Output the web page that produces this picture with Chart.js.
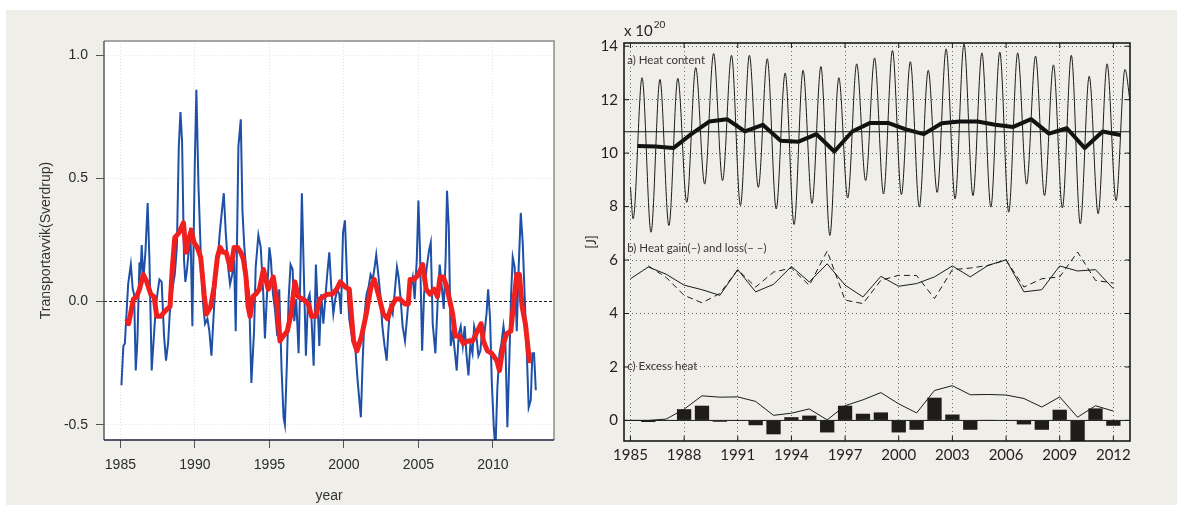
<!DOCTYPE html>
<html>
<head>
<meta charset="utf-8">
<script src="https://cdn.jsdelivr.net/npm/chart.js@4.4.1/dist/chart.umd.min.js"></script>
<style>
body { margin: 0; width: 1177px; height: 505px; background: #fff; position: relative; overflow: hidden; }
#bg { position: absolute; left: 6px; top: 10px; width: 1171px; height: 495px; background: #efeee9; }
#left { position: absolute; left: 0; top: 0; width: 590px; height: 505px; }
#right { position: absolute; left: 584px; top: 0; width: 593px; height: 505px; }
</style>
</head>
<body>
<div id="bg"></div>
<canvas id="left" width="590" height="505"></canvas>
<canvas id="right" width="593" height="505"></canvas>
<script>
// ---- left panel: transport anomaly (Sv) ----
var leftYearTicks = [1985, 1990, 1995, 2000, 2005, 2010]
var leftValueTicks = [-0.5, 0, 0.5, 1.0]

var transportYears = [
  1985.07, 1985.2, 1985.3, 1985.52, 1985.7, 1985.83, 1985.92, 1986.03, 1986.14, 1986.28,
  1986.36, 1986.43, 1986.54, 1986.68, 1986.83, 1986.95, 1987.1, 1987.26, 1987.37, 1987.48,
  1987.62, 1987.77, 1987.93, 1988.06, 1988.2, 1988.31, 1988.49, 1988.65, 1988.79, 1988.92,
  1989.03, 1989.14, 1989.27, 1989.36, 1989.47, 1989.61, 1989.7, 1989.83, 1989.99, 1990.1,
  1990.24, 1990.39, 1990.55, 1990.68, 1990.84, 1990.97, 1991.11, 1991.29, 1991.42, 1991.53,
  1991.67, 1991.8, 1991.94, 1992.07, 1992.23, 1992.36, 1992.5, 1992.63, 1992.74, 1992.92,
  1993.08, 1993.19, 1993.32, 1993.48, 1993.64, 1993.79, 1993.97, 1994.08, 1994.26, 1994.42,
  1994.59, 1994.7, 1994.84, 1995.0, 1995.1, 1995.24, 1995.37, 1995.53, 1995.66, 1995.82,
  1995.95, 1996.04, 1996.18, 1996.29, 1996.42, 1996.56, 1996.67, 1996.8, 1996.96, 1997.07,
  1997.18, 1997.3, 1997.45, 1997.59, 1997.7, 1997.81, 1997.97, 1998.12, 1998.24, 1998.35,
  1998.48, 1998.62, 1998.75, 1998.88, 1999.02, 1999.15, 1999.29, 1999.42, 1999.56, 1999.69,
  1999.8, 1999.94, 2000.07, 2000.23, 2000.36, 2000.5, 2000.65, 2000.79, 2000.92, 2001.05,
  2001.14, 2001.26, 2001.39, 2001.52, 2001.66, 2001.79, 2001.93, 2002.04, 2002.17, 2002.31,
  2002.44, 2002.58, 2002.73, 2002.87, 2002.98, 2003.11, 2003.27, 2003.4, 2003.56, 2003.67,
  2003.81, 2003.94, 2004.1, 2004.23, 2004.37, 2004.62, 2004.75, 2004.89, 2005.0, 2005.11,
  2005.25, 2005.38, 2005.56, 2005.72, 2005.83, 2005.96, 2006.14, 2006.3, 2006.43, 2006.57,
  2006.7, 2006.83, 2006.92, 2007.04, 2007.17, 2007.3, 2007.44, 2007.57, 2007.71, 2007.84,
  2007.98, 2008.11, 2008.22, 2008.36, 2008.49, 2008.63, 2008.74, 2008.89, 2009.03, 2009.16,
  2009.3, 2009.43, 2009.57, 2009.68, 2009.81, 2009.92, 2010.06, 2010.17, 2010.3, 2010.44,
  2010.57, 2010.71, 2010.84, 2010.97, 2011.11, 2011.22, 2011.33, 2011.46, 2011.6, 2011.73,
  2011.87, 2012.0, 2012.14, 2012.27, 2012.4, 2012.54, 2012.65, 2012.76, 2012.88
]
var transportValues = [
  -0.34, -0.18, -0.17, 0.07, 0.15, 0.05, 0.03, -0.28, -0.16, 0.16,
  0.13, 0.23, 0.09, 0.20, 0.40, 0.17, -0.28, -0.13, -0.03, 0.03,
  0.09, 0.08, -0.14, -0.24, -0.17, -0.05, 0.05, 0.11, 0.22, 0.63,
  0.77, 0.65, 0.17, 0.08, 0.13, 0.22, 0.30, -0.10, 0.55, 0.86,
  0.47, 0.20, -0.01, -0.09, -0.07, -0.12, -0.22, -0.02, 0.11, 0.17,
  0.28, 0.36, 0.44, 0.28, 0.14, 0.07, 0.11, 0.17, -0.12, 0.63,
  0.74, 0.37, 0.22, 0.10, 0.03, -0.33, -0.12, 0.14, 0.27, 0.22,
  0.03, -0.15, 0.03, 0.22, 0.17, 0.03, -0.03, -0.14, 0.05, -0.28,
  -0.47, -0.50, -0.24, 0.01, 0.15, 0.13, -0.08, 0.01, -0.21, 0.09,
  0.44, 0.14, -0.22, 0.01, 0.03, -0.05, -0.26, 0.15, -0.02, -0.18,
  0.03, -0.09, 0.01, 0.11, 0.20, 0.06, -0.05, 0.01, 0.05, 0.03,
  -0.05, 0.28, 0.33, 0.06, -0.07, -0.13, -0.12, -0.21, -0.32, -0.41,
  -0.47, -0.24, -0.05, 0.03, 0.06, 0.11, 0.09, 0.13, 0.19, 0.11,
  0.03, -0.10, -0.18, -0.24, -0.12, -0.02, -0.05, 0.03, 0.14, 0.10,
  0.01, -0.10, -0.16, -0.07, 0.03, 0.10, 0.01, 0.17, 0.41, 0.20,
  -0.20, 0.03, 0.14, 0.21, 0.24, -0.09, -0.21, 0.01, 0.15, 0.06,
  -0.03, 0.18, 0.45, 0.30, -0.18, -0.12, -0.20, -0.28, -0.13, -0.10,
  -0.18, -0.10, -0.21, -0.30, -0.17, -0.21, -0.10, -0.14, -0.22, -0.20,
  -0.10, -0.13, -0.05, 0.05, -0.07, -0.32, -0.51, -0.60, -0.35, -0.21,
  -0.17, -0.10, -0.17, -0.51, -0.22, 0.03, 0.18, 0.14, -0.12, 0.14,
  0.36, 0.24, 0.01, -0.20, -0.43, -0.40, -0.21, -0.21, -0.36
]

var smoothYears = [
  1985.43, 1985.55, 1985.65, 1985.87, 1986.1, 1986.28, 1986.54, 1986.77, 1987.04, 1987.26,
  1987.44, 1987.71, 1987.98, 1988.33, 1988.49, 1988.65, 1988.94, 1989.23, 1989.41, 1989.58,
  1989.76, 1989.94, 1990.16, 1990.39, 1990.62, 1990.78, 1991.06, 1991.29, 1991.51, 1991.69,
  1991.89, 1992.1, 1992.41, 1992.63, 1992.86, 1993.08, 1993.26, 1993.43, 1993.57, 1993.7,
  1993.88, 1994.08, 1994.33, 1994.6, 1994.92, 1995.26, 1995.48, 1995.71, 1995.93, 1996.2,
  1996.45, 1996.71, 1996.94, 1997.27, 1997.61, 1997.83, 1998.1, 1998.39, 1998.62, 1998.91,
  1999.22, 1999.51, 1999.76, 2000.07, 2000.36, 2000.65, 2000.88, 2001.19, 2001.5, 2001.82,
  2002.04, 2002.31, 2002.64, 2002.93, 2003.2, 2003.47, 2003.76, 2004.1, 2004.32, 2004.44,
  2004.71, 2005.0, 2005.29, 2005.52, 2005.78, 2006.05, 2006.28, 2006.45, 2006.68, 2006.9,
  2007.08, 2007.3, 2007.48, 2007.75, 2008.02, 2008.33, 2008.64, 2008.96, 2009.21, 2009.36,
  2009.63, 2009.92, 2010.26, 2010.44, 2010.71, 2010.93, 2011.2, 2011.42, 2011.6, 2011.78,
  2011.96, 2012.18, 2012.45, 2012.56
]
var smoothValues = [
  -0.07, -0.09, -0.06, 0.01, 0.02, 0.05, 0.11, 0.08, 0.03, 0.02,
  -0.06, -0.06, -0.04, -0.02, 0.14, 0.26, 0.28, 0.32, 0.20, 0.25,
  0.29, 0.24, 0.22, 0.18, 0.03, -0.05, -0.02, 0.06, 0.18, 0.22,
  0.20, 0.20, 0.13, 0.22, 0.22, 0.20, 0.17, 0.10, -0.02, -0.06,
  0.02, 0.03, 0.05, 0.13, 0.05, 0.10, 0.01, -0.16, -0.14, -0.12,
  -0.05, 0.08, 0.02, 0.01, -0.01, -0.06, -0.06, 0.01, 0.02, 0.03,
  0.03, 0.05, 0.08, 0.06, 0.05, -0.16, -0.20, -0.14, -0.05, 0.06,
  0.09, 0.03, -0.05, -0.07, -0.02, 0.01, 0.01, -0.01, -0.01, 0.09,
  0.09, 0.11, 0.15, 0.05, 0.03, 0.05, 0.02, 0.10, 0.10, 0.06,
  0.01, -0.05, -0.14, -0.14, -0.17, -0.16, -0.16, -0.12, -0.09, -0.16,
  -0.20, -0.21, -0.24, -0.28, -0.17, -0.13, -0.12, 0.01, 0.11, 0.11,
  -0.02, -0.09, -0.24, -0.24
]

// ---- right panel: heat budget (x 10^20 J) ----
var rightYearTicks = [1985, 1988, 1991, 1994, 1997, 2000, 2003, 2006, 2009, 2012]
var rightValueTicks = [0, 2, 4, 6, 8, 10, 12, 14]

var heatYears = [1985, 1986, 1987, 1988, 1989, 1990, 1991, 1992, 1993, 1994, 1995, 1996, 1997, 1998,
  1999, 2000, 2001, 2002, 2003, 2004, 2005, 2006, 2007, 2008, 2009, 2010, 2011, 2012]
var heatPeaks = [12.82, 12.76, 12.8, 13.2, 13.73, 13.66, 13.66, 13.53, 13.0, 13.1, 13.24, 12.82, 13.34, 13.56,
  13.84, 13.42, 13.1, 13.9, 14.09, 13.75, 13.78, 13.75, 13.63, 13.3, 13.66, 12.88, 13.34, 13.13]
var heatTroughs = [7.54, 7.04, 7.29, 8.16, 8.84, 8.97, 8.04, 8.72, 7.91, 7.33, 8.12, 6.92, 8.32, 8.97,
  8.47, 8.45, 7.98, 8.53, 8.29, 8.41, 7.98, 7.79, 8.84, 8.41, 7.95, 7.35, 7.73, 8.22]
var heatStart = 8.72
var heatEnd = 11.95
var heatAnnual = [10.27, 10.25, 10.19, 10.71, 11.18, 11.27, 10.81, 11.06, 10.46, 10.43, 10.71, 10.06, 10.81, 11.13,
  11.13, 10.89, 10.71, 11.12, 11.18, 11.18, 11.06, 10.98, 11.27, 10.73, 10.93, 10.19, 10.81, 10.68]
var heatMean = 10.8

var heatGain = [5.30, 5.74, 5.47, 5.06, 4.89, 4.68, 5.64, 4.81, 5.09, 5.76, 5.18, 5.86, 5.06, 4.62,
  5.39, 5.02, 5.12, 5.37, 5.78, 5.37, 5.80, 6.01, 4.81, 4.89, 5.78, 5.59, 5.64, 4.93]
var heatLoss = [null, 5.78, 5.35, 4.68, 4.40, 4.75, 5.64, 4.99, 5.55, 5.70, 5.05, 6.34, 4.50, 4.37,
  5.24, 5.43, 5.42, 4.56, 5.64, 5.70, 5.80, 6.00, 4.99, 5.30, 5.37, 6.30, 5.24, 5.14]

var excessBars = [0.0, -0.06, 0.02, 0.42, 0.55, -0.05, -0.01, -0.18, -0.52, 0.12, 0.18, -0.45, 0.55, 0.25,
  0.30, -0.45, -0.35, 0.85, 0.22, -0.35, 0.01, -0.02, -0.15, -0.35, 0.40, -0.95, 0.45, -0.20]
var excessLine = [0.0, 0.0, 0.05, 0.42, 0.92, 0.87, 0.88, 0.71, 0.19, 0.27, 0.43, 0.02, 0.55, 0.77,
  1.04, 0.62, 0.28, 1.12, 1.30, 0.96, 0.97, 0.95, 0.82, 0.50, 0.88, 0.12, 0.55, 0.35]

var rightMinX = 1984.64
var rightMaxX = 2012.93

function pairs(xs, ys) {
  return xs.map(function (x, i) { return {x: x, y: ys[i]} })
}

var heatSeries = [{x: heatYears[0], y: heatStart}]
heatYears.forEach(function (yr, i) {
  heatSeries.push({x: yr + 0.15, y: heatTroughs[i]})
  heatSeries.push({x: yr + 0.65, y: heatPeaks[i]})
})
heatSeries.push({x: rightMaxX, y: heatEnd})

var sansL = "'Liberation Sans', Arial, sans-serif"
var sansR = "Lato, 'Open Sans', sans-serif"

// left plot: white area + frame
var leftFrame = {
  id: 'leftFrame',
  beforeDraw: function (chart) {
    var a = chart.chartArea, c = chart.ctx
    c.save()
    c.fillStyle = '#ffffff'
    c.fillRect(a.left, a.top, a.right - a.left, a.bottom - a.top)
    c.restore()
  },
  afterDraw: function (chart) {
    var a = chart.chartArea, c = chart.ctx
    c.save()
    c.lineWidth = 1.5
    c.strokeStyle = '#8c8c8c'
    c.beginPath()
    c.moveTo(a.left, a.top); c.lineTo(a.right, a.top); c.lineTo(a.right, a.bottom)
    c.stroke()
    c.strokeStyle = '#5a5a5a'
    c.beginPath(); c.moveTo(a.left, a.top); c.lineTo(a.left, a.bottom); c.stroke()
    c.strokeStyle = '#1b2140'
    c.beginPath(); c.moveTo(a.left, a.bottom); c.lineTo(a.right, a.bottom); c.stroke()
    c.restore()
  }
}

new Chart(document.getElementById('left'), {
  type: 'line',
  data: {
    datasets: [
      { label: 'smoothed', data: pairs(smoothYears, smoothValues), borderColor: '#f0201e', borderWidth: 5,
        pointRadius: 0, borderJoinStyle: 'round', order: 0, clip: 0 },
      { label: 'monthly', data: pairs(transportYears, transportValues), borderColor: '#1e50a8', borderWidth: 2,
        pointRadius: 0, order: 1, clip: 0 }
    ]
  },
  options: {
    responsive: false,
    animation: false,
    layout: { padding: { top: 41, right: 36, left: 0, bottom: 0 } },
    plugins: { legend: { display: false }, tooltip: { enabled: false } },
    scales: {
      x: {
        type: 'linear', min: 1983.9, max: 2014.1,
        afterBuildTicks: function (s) { s.ticks = leftYearTicks.map(function (v) { return {value: v} }) },
        afterFit: function (s) { s.height = 65 },
        ticks: { callback: function (v) { return String(v) }, font: { family: sansL, size: 14 }, color: '#2b2b2b',
          padding: 9, maxRotation: 0, autoSkip: false },
        grid: { color: '#e3e3e3', tickColor: '#555', tickLength: 8 },
        border: { display: false, dash: [1, 2] },
        title: { display: true, text: 'year', font: { family: sansL, size: 14 }, color: '#333', padding: { top: 0, bottom: 0 } }
      },
      y: {
        type: 'linear', min: -0.562, max: 1.058,
        afterBuildTicks: function (s) { s.ticks = leftValueTicks.map(function (v) { return {value: v} }) },
        afterFit: function (s) { s.width = 104 },
        ticks: { callback: function (v) { return v.toFixed(1) }, font: { family: sansL, size: 14 }, color: '#2b2b2b', padding: 8 },
        grid: {
          color: function (c) { return c.tick && c.tick.value === 0 ? '#222' : '#e3e3e3' },
          tickColor: '#555', tickLength: 8
        },
        border: { display: false, dash: function (c) { return c.tick && c.tick.value === 0 ? [3, 2] : [1, 2] } },
        title: { display: true, text: 'Transportavvik(Sverdrup)', font: { family: sansL, size: 14 }, color: '#333',
          padding: { top: 38, bottom: 0 } }
      }
    }
  },
  plugins: [leftFrame]
})

// right plot: frame, inner ticks, exponent and panel labels
var rightFrame = {
  id: 'rightFrame',
  afterDraw: function (chart) {
    var a = chart.chartArea, c = chart.ctx
    var xs = chart.scales.x, ys = chart.scales.y
    c.save()
    c.strokeStyle = '#1a1a1a'
    c.lineWidth = 1
    c.beginPath()
    rightYearTicks.forEach(function (v) {
      var px = xs.getPixelForValue(v)
      c.moveTo(px, a.bottom); c.lineTo(px, a.bottom - 5)
      c.moveTo(px, a.top); c.lineTo(px, a.top + 5)
    })
    rightValueTicks.forEach(function (v) {
      var py = ys.getPixelForValue(v)
      c.moveTo(a.left, py); c.lineTo(a.left + 5, py)
      c.moveTo(a.right, py); c.lineTo(a.right - 5, py)
    })
    c.stroke()
    c.lineWidth = 1.6
    c.strokeRect(a.left, a.top, a.right - a.left, a.bottom - a.top)

    c.fillStyle = '#231f20'
    c.textBaseline = 'alphabetic'
    c.font = '15px ' + sansR
    c.fillText('x 10', a.left, a.top - 7)
    var w = c.measureText('x 10').width
    c.font = '10px ' + sansR
    c.fillText('20', a.left + w + 1, a.top - 15)

    c.font = '11.5px ' + sansR
    c.fillStyle = '#3a3535'
    c.textBaseline = 'middle'
    var lx = xs.getPixelForValue(1984.82)
    c.fillText('a) Heat content', lx, ys.getPixelForValue(13.47))
    c.fillText('b) Heat gain(\u2013) and loss(\u2013 \u2013)', lx, ys.getPixelForValue(6.44))
    c.fillText('c) Excess heat', lx, ys.getPixelForValue(2.04))
    c.restore()
  }
}

var thin = { pointRadius: 0, borderColor: '#1a1a1a', borderWidth: 1, clip: 0, order: 1 }

new Chart(document.getElementById('right'), {
  type: 'line',
  data: {
    datasets: [
      Object.assign({ label: 'heat content', data: heatSeries, cubicInterpolationMode: 'monotone' }, thin),
      Object.assign({ label: 'mean', data: [{x: rightMinX, y: heatMean}, {x: rightMaxX, y: heatMean}] }, thin),
      Object.assign({ label: 'annual', data: pairs(heatYears.map(function (y) { return y + 0.4 }), heatAnnual) }, thin,
        { borderWidth: 4, borderColor: '#111', borderJoinStyle: 'round' }),
      Object.assign({ label: 'gain', data: pairs(heatYears, heatGain) }, thin),
      Object.assign({ label: 'loss', data: pairs(heatYears, heatLoss), borderDash: [6, 4] }, thin),
      Object.assign({ label: 'excess cumulative', data: pairs(heatYears, excessLine) }, thin),
      Object.assign({ label: 'zero', data: [{x: rightMinX, y: 0}, {x: rightMaxX, y: 0}] }, thin),
      { type: 'bar', label: 'excess', data: pairs(heatYears, excessBars), backgroundColor: '#1f1c1c',
        barPercentage: 0.8, categoryPercentage: 1.0, order: 5, clip: 0 }
    ]
  },
  options: {
    responsive: false,
    animation: false,
    layout: { padding: { top: 43, right: 47, left: 0, bottom: 0 } },
    plugins: { legend: { display: false }, tooltip: { enabled: false } },
    scales: {
      x: {
        type: 'linear', min: rightMinX, max: rightMaxX, offset: false,
        afterBuildTicks: function (s) { s.ticks = rightYearTicks.map(function (v) { return {value: v} }) },
        afterFit: function (s) { s.height = 64 },
        ticks: { callback: function (v) { return String(v) }, font: { family: sansR, size: 15 }, color: '#231f20',
          padding: 5, maxRotation: 0, autoSkip: false },
        grid: { color: '#6a6a6a', drawTicks: false, offset: false },
        border: { display: false, dash: [1, 3] }
      },
      y: {
        type: 'linear', min: -0.77, max: 14.12,
        afterBuildTicks: function (s) { s.ticks = rightValueTicks.map(function (v) { return {value: v} }) },
        afterFit: function (s) { s.width = 40 },
        ticks: { callback: function (v) { return String(v) }, font: { family: sansR, size: 15 }, color: '#231f20', padding: 6 },
        grid: { color: '#6a6a6a', drawTicks: false },
        border: { display: false, dash: [1, 3] },
        title: { display: true, text: '[J]', font: { family: sansR, size: 13 }, color: '#231f20', padding: { top: 0, bottom: 0 } }
      }
    }
  },
  plugins: [rightFrame]
})
</script>
</body>
</html>
